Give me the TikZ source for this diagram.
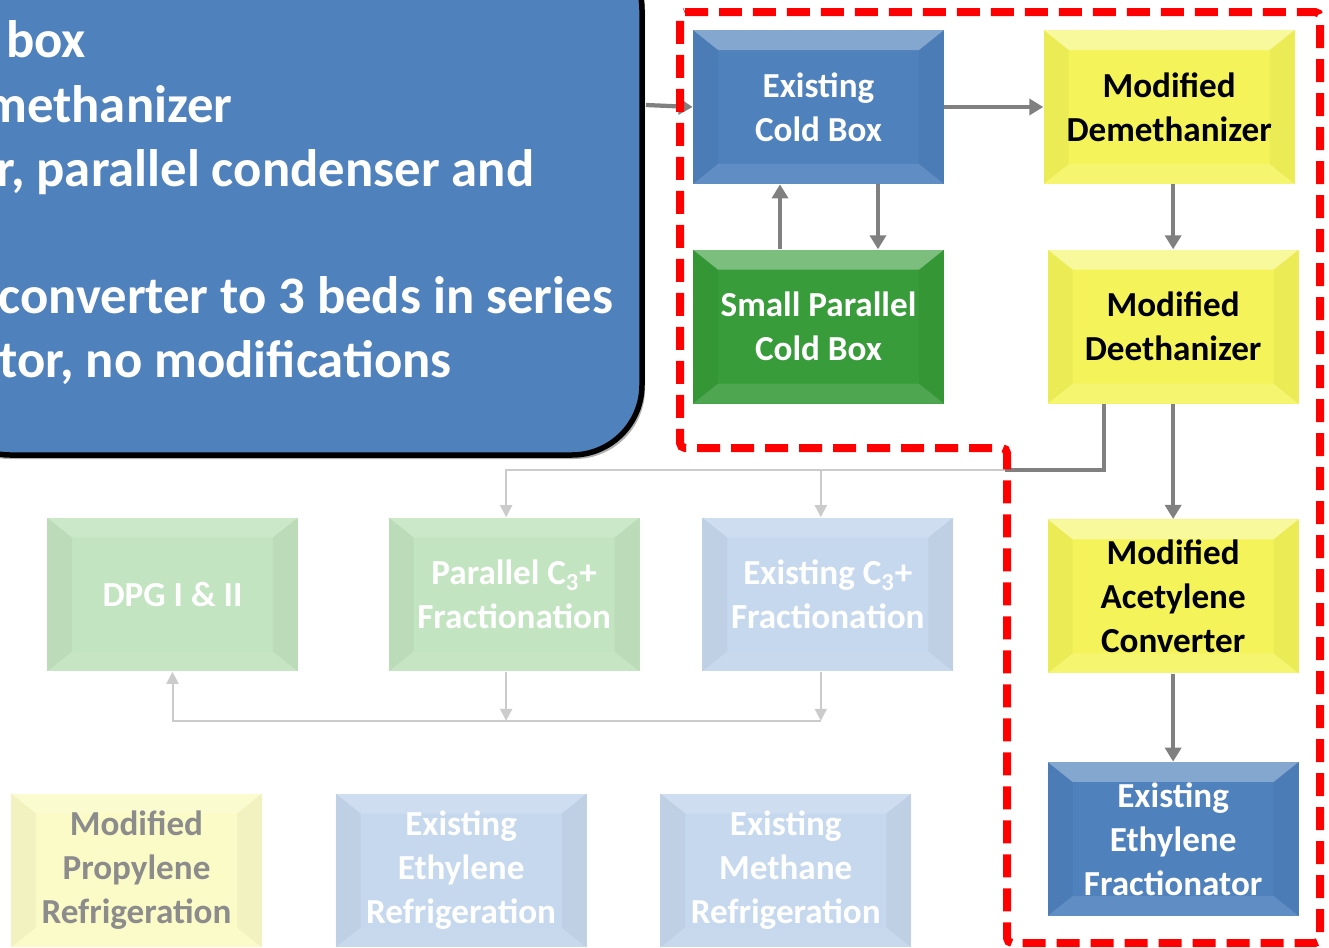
\documentclass[tikz,border=0pt]{standalone}
\usepackage{fontspec}
\setmainfont{Carlito}
\usepackage{tikz}
\usetikzlibrary{arrows.meta, positioning}

\definecolor{calloutblue}{HTML}{4F81BD}
\definecolor{boxblue}{HTML}{4F81BD}
\definecolor{boxyellow}{HTML}{F4F45A}
\definecolor{boxgreen}{HTML}{379C39}
\definecolor{fadegreen}{HTML}{C2E4C0}
\definecolor{fadeblue}{HTML}{C6D8EE}
\definecolor{fadeyellow}{HTML}{FBFBC8}
\definecolor{flowgray}{HTML}{808080}
\definecolor{fadegray}{HTML}{CBCBCB}
\definecolor{fadetext}{HTML}{8C8C8C}

% bevelled look of the unit boxes
\tikzset{
  bevel/.style={path picture={
    \path (path picture bounding box.north west) coordinate (bv-nw)
          (path picture bounding box.north east) coordinate (bv-ne)
          (path picture bounding box.south west) coordinate (bv-sw)
          (path picture bounding box.south east) coordinate (bv-se);
    \fill[white, opacity=#1] (bv-nw) -- (bv-ne) -- ([shift={(-0.5cm,-0.4cm)}]bv-ne) -- ([shift={(0.5cm,-0.4cm)}]bv-nw) -- cycle;
    \fill[white, opacity=#1/3] (bv-sw) -- (bv-se) -- ([shift={(-0.5cm,0.4cm)}]bv-se) -- ([shift={(0.5cm,0.4cm)}]bv-sw) -- cycle;
    \fill[black, opacity=0.035] (bv-nw) -- ([shift={(0.5cm,-0.4cm)}]bv-nw) -- ([shift={(0.5cm,0.4cm)}]bv-sw) -- (bv-sw) -- cycle;
    \fill[black, opacity=0.035] (bv-ne) -- ([shift={(-0.5cm,-0.4cm)}]bv-ne) -- ([shift={(-0.5cm,0.4cm)}]bv-se) -- (bv-se) -- cycle;
  }},
  bevel/.default=0.3
}

\begin{document}
\begin{tikzpicture}[
    x=0.02cm, y=-0.02cm,
    unit/.style={rectangle, minimum width=5.02cm, minimum height=3.08cm, inner sep=0pt, align=center, font=\fontsize{20}{25}\selectfont\bfseries},
    existing/.style={unit, fill=boxblue, text=white, bevel=0.3},
    modified/.style={unit, fill=boxyellow, text=black, bevel=0.4},
    parallel/.style={unit, fill=boxgreen, text=white, bevel=0.35},
    fadegreenbox/.style={unit, fill=fadegreen, text=white, bevel=0.15},
    fadebluebox/.style={unit, fill=fadeblue, text=white, bevel=0.15},
    fadeyellowbox/.style={unit, fill=fadeyellow, text=fadetext, bevel=0.15},
    note/.style={anchor=base west, inner sep=0pt, text=white, font=\fontsize{30}{36}\selectfont\bfseries},
    flow/.style={-{Triangle[length=0.28cm, width=0.32cm]}, line width=0.085cm, draw=flowgray},
    fadeflow/.style={-{Triangle[length=0.24cm, width=0.24cm]}, line width=0.04cm, draw=fadegray},
    redzone/.style={draw=red, line width=0.16cm, dash pattern=on 0.46cm off 0.22cm, rounded corners=0.1cm},
]
\useasboundingbox (0,0) rectangle (1329,947);
\clip (0,0) rectangle (1329,947);

% callout with the list of modifications
\fill[gray!60, rounded corners=1.4cm] (-60,-60) rectangle (645,459);
\draw[fill=calloutblue, draw=black, line width=0.11cm, rounded corners=1.4cm] (-60,-60) rectangle (642,455);
\node[note] (note1) at (6,57) {box};
\node[note] (note2) at (-16,122) {methanizer};
\node[note] (note3) at (-4,186) {r, parallel condenser and};
\node[note] (note4) at (-2,313) {converter to 3 beds in series};
\node[note] (note5) at (-1,377) {tor, no modifications};
\coordinate (calloutedge) at (646,105);

% units in the scope of the revamp
\node[existing] (coldbox) at (818.5,107) {Existing\\Cold Box};
\node[modified, right=1.98cm of coldbox] (demeth) {Modified\\Demethanizer};
\node[parallel, below=1.3cm of coldbox] (smallbox) {Small Parallel\\Cold Box};
\node[modified, below=1.3cm of demeth, xshift=0.08cm] (deeth) {Modified\\Deethanizer};
\node[modified, below=2.3cm of deeth] (acetconv) {Modified\\Acetylene\\Converter};
\node[existing, below=1.76cm of acetconv] (ethfrac) {Existing\\Ethylene\\Fractionator};

% faded units outside the scope
\node[fadegreenbox] (dpg) at (172.5,594.5) {DPG I \& II};
\node[fadegreenbox, right=1.8cm of dpg] (parfrac) {Parallel C\textsubscript{3}+\\Fractionation};
\node[fadebluebox, right=1.24cm of parfrac] (exfrac) {Existing C\textsubscript{3}+\\Fractionation};
\node[fadeyellowbox] (propref) at (136.5,870.5) {Modified\\Propylene\\Refrigeration};
\node[fadebluebox, right=1.46cm of propref] (ethref) {Existing\\Ethylene\\Refrigeration};
\node[fadebluebox, right=1.46cm of ethref] (methref) {Existing\\Methane\\Refrigeration};

% main flow
\draw[flow] (calloutedge) -- (coldbox.west);
\draw[flow] (coldbox.east) -- (demeth.west);
\draw[flow] ([xshift=1.19cm]coldbox.south) -- ([xshift=1.19cm]smallbox.north);
\draw[flow] ([xshift=-0.77cm]smallbox.north) -- ([xshift=-0.77cm]coldbox.south);
\draw[flow] (demeth.south -| deeth.north) -- (deeth.north);
\draw[flow] (deeth.south) -- (acetconv.north);
\draw[flow] (acetconv.south) -- (ethfrac.north);

% bottoms to the C3+ fractionation
\coordinate (junc) at (1005,470);
\draw[flow, -] ([xshift=-1.39cm]deeth.south) |- (junc);
\coordinate (inpar) at ([xshift=-0.16cm]parfrac.north);
\coordinate (inex) at ([xshift=-0.14cm]exfrac.north);
\draw[fadeflow] (junc) -| (inpar);
\draw[fadeflow] (inex |- junc) -- (inex);
\coordinate (outpar) at ([xshift=-0.16cm]parfrac.south);
\coordinate (outex) at ([xshift=-0.14cm]exfrac.south);
\path (outex) ++(0,49) coordinate (collect);
\draw[fadeflow] (outpar) -- (outpar |- collect);
\draw[fadeflow] (outex) -- (collect);
\draw[fadeflow] (collect) -| (dpg.south);

% scope of the revamp
\draw[redzone] (680,12) -- (1320,12) -- (1320,943) -- (1007,943) -- (1007,448) -- (680,448) -- cycle;

\end{tikzpicture}
\end{document}
